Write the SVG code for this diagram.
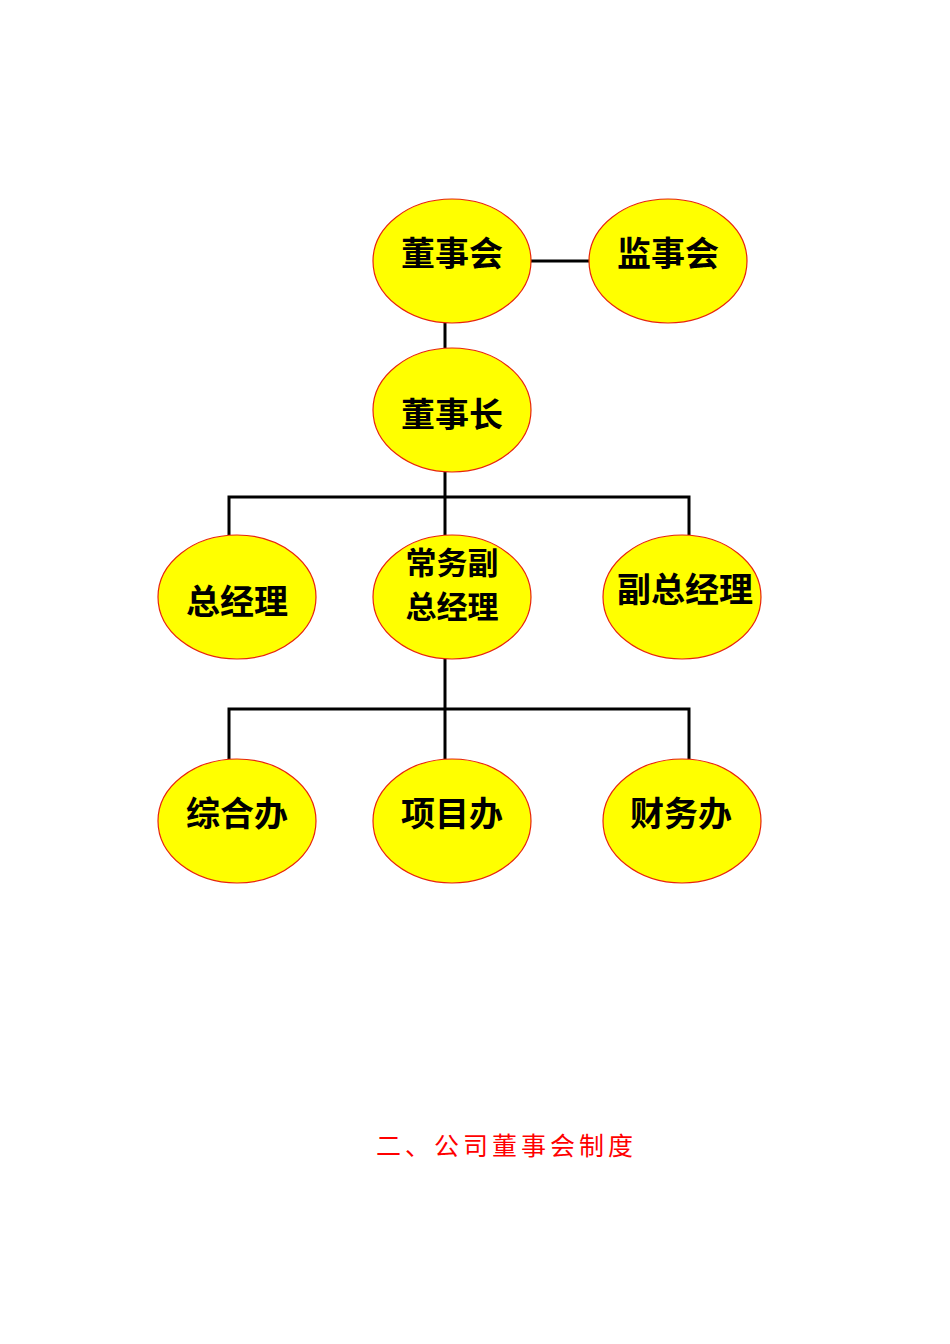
<svg xmlns="http://www.w3.org/2000/svg" width="950" height="1344" viewBox="0 0 950 1344">
<style>
.n{fill:#ffff00;stroke:#e8240c;stroke-width:1.2}
.t{font-family:"Noto Sans CJK SC","Noto Sans CJK JP",sans-serif;font-size:34px;font-weight:bold;fill:#000;text-anchor:middle}
.s{font-size:31px}
.c{fill:none;stroke:#000;stroke-width:3}
.title{font-family:"Noto Sans CJK SC",sans-serif;font-size:25px;fill:#ff0000;letter-spacing:4px}
</style>
<rect width="950" height="1344" fill="#fff"/>
<g id="connectors">
<line class="c" x1="531" y1="261" x2="589" y2="261"/>
<line class="c" x1="445" y1="323" x2="445" y2="348"/>
<polyline class="c" points="229,535 229,497 689,497 689,535"/>
<line class="c" x1="445" y1="472" x2="445" y2="535"/>
<polyline class="c" points="229,759 229,709 689,709 689,759"/>
<line class="c" x1="445" y1="659" x2="445" y2="759"/>
</g>
<g id="dongshihui"><ellipse class="n" cx="452" cy="261" rx="79" ry="62"/><text class="t" x="452" y="266">董事会</text></g>
<g id="jianshihui"><ellipse class="n" cx="668" cy="261" rx="79" ry="62"/><text class="t" x="668" y="266">监事会</text></g>
<g id="dongshizhang"><ellipse class="n" cx="452" cy="410" rx="79" ry="62"/><text class="t" x="452" y="427">董事长</text></g>
<g id="zongjingli"><ellipse class="n" cx="237" cy="597" rx="79" ry="62"/><text class="t" x="237" y="614">总经理</text></g>
<g id="changwu"><ellipse class="n" cx="452" cy="597" rx="79" ry="62"/><text class="t s" x="452" y="574">常务副</text><text class="t s" x="452" y="618">总经理</text></g>
<g id="fuzongjingli"><ellipse class="n" cx="682" cy="597" rx="79" ry="62"/><text class="t" x="685" y="602">副总经理</text></g>
<g id="zonghe"><ellipse class="n" cx="237" cy="821" rx="79" ry="62"/><text class="t" x="237" y="826">综合办</text></g>
<g id="xiangmu"><ellipse class="n" cx="452" cy="821" rx="79" ry="62"/><text class="t" x="452" y="826">项目办</text></g>
<g id="caiwu"><ellipse class="n" cx="682" cy="821" rx="79" ry="62"/><text class="t" x="681" y="826">财务办</text></g>
<text class="title" x="376" y="1155">二、公司董事会制度</text>
</svg>
